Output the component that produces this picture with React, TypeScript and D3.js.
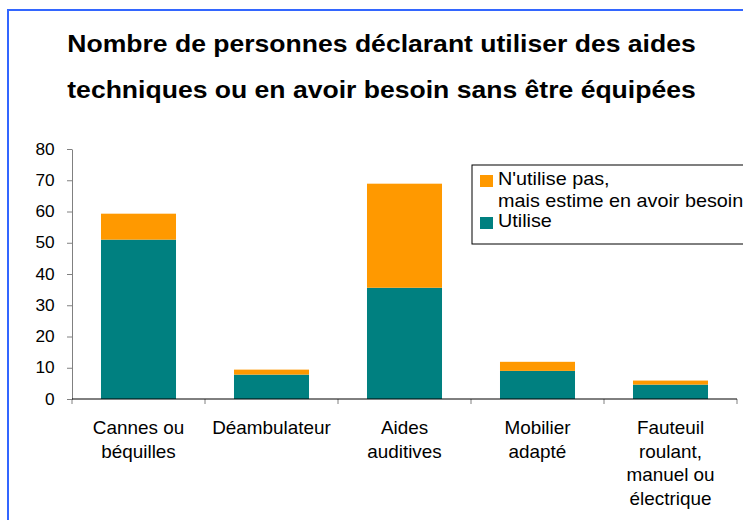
import React, { useEffect, useRef } from 'react';
import * as d3 from 'd3';

// categories (multi-line labels) and stacked values
const categories = ['Cannes ou béquilles', 'Déambulateur', 'Aides auditives', 'Mobilier adapté', 'Fauteuil roulant, manuel ou électrique'];
const labelLines = [['Cannes ou', 'béquilles'], ['Déambulateur'], ['Aides', 'auditives'], ['Mobilier', 'adapté'], ['Fauteuil', 'roulant,', 'manuel ou', 'électrique']];
const utilise = [51, 7.8, 35.6, 9.0, 4.6];
const besoin = [8.3, 1.6, 33.3, 2.9, 1.3];
const yTicks = [0, 10, 20, 30, 40, 50, 60, 70, 80];
const titleLines = ['Nombre de personnes déclarant utiliser des aides', 'techniques ou en avoir besoin sans être équipées'];
const legendItems = [
  { lines: ["N'utilise pas,", 'mais estime en avoir besoin'], color: '#FF9900' },
  { lines: ['Utilise'], color: '#008080' },
];

const App = () => {
  const svgRef = useRef<SVGSVGElement>(null);

  useEffect(() => {
    const svg = d3.select(svgRef.current);
    svg.selectAll('*').remove();

    const width = 743;
    const height = 520;
    const margin = { top: 149, right: 6, bottom: 121, left: 72 };
    const font = 'Arial, "Liberation Sans", sans-serif';
    // the original text is a bit wider than plain Arial
    const stretch = (x, y, s) => `translate(${x},${y}) scale(${s},1)`;

    // blue frame around the chart
    svg.append('rect')
      .attr('x', 8).attr('y', 10)
      .attr('width', width + 20).attr('height', height + 20)
      .attr('fill', 'white')
      .attr('stroke', '#3366FF')
      .attr('stroke-width', 2);

    // title
    svg.append('g').selectAll('text')
      .data(titleLines)
      .join('text')
      .attr('transform', (d, i) => stretch(381.5, 52 + i * 45.5, 1.155))
      .attr('text-anchor', 'middle')
      .attr('font-family', font)
      .attr('font-weight', 'bold')
      .attr('font-size', 23)
      .attr('fill', '#000')
      .text(d => d);

    const xScale = d3.scaleBand()
      .domain(categories)
      .range([margin.left, width - margin.right])
      .paddingInner(0.436)
      .paddingOuter(0.218);

    const yScale = d3.scaleLinear()
      .domain([0, 80])
      .range([height - margin.bottom, margin.top]);

    const rows = categories.map((c, i) => ({ cat: c, utilise: utilise[i], besoin: besoin[i] }));
    const stack = d3.stack<any>().keys(['utilise', 'besoin'])(rows);
    const colors = { utilise: '#008080', besoin: '#FF9900' };

    svg.append('g').selectAll('g')
      .data(stack)
      .join('g')
      .attr('fill', d => colors[d.key])
      .selectAll('rect')
      .data(d => d)
      .join('rect')
      .attr('x', d => xScale(d.data.cat))
      .attr('y', d => yScale(d[1]))
      .attr('width', xScale.bandwidth())
      .attr('height', d => yScale(d[0]) - yScale(d[1]));

    // y axis
    const yAxis = svg.append('g')
      .attr('transform', `translate(${margin.left},0)`)
      .call(d3.axisLeft(yScale).tickValues(yTicks).tickSize(5).tickSizeOuter(0).tickPadding(11));
    yAxis.select('.domain').attr('stroke', '#808080');
    yAxis.selectAll('line').attr('stroke', '#808080');
    yAxis.selectAll('text')
      .attr('font-family', font)
      .attr('font-size', 16)
      .attr('fill', '#000')
      .attr('transform', 'scale(1.08,1)');

    // x axis: black baseline, grey ticks between categories
    const step = xScale.step();
    const bounds = d3.range(categories.length + 1).map(i => margin.left + i * step);
    svg.append('g').selectAll('line')
      .data(bounds)
      .join('line')
      .attr('x1', d => d).attr('x2', d => d)
      .attr('y1', yScale(0)).attr('y2', yScale(0) + 5)
      .attr('stroke', '#808080');
    svg.append('line')
      .attr('x1', margin.left).attr('x2', width - margin.right)
      .attr('y1', yScale(0)).attr('y2', yScale(0))
      .attr('stroke', '#000');

    svg.append('g').selectAll('text')
      .data(categories)
      .join('text')
      .attr('transform', d => stretch(xScale(d) + xScale.bandwidth() / 2, 434, 1.05))
      .attr('font-family', font)
      .attr('font-size', 18)
      .attr('fill', '#000')
      .attr('text-anchor', 'middle')
      .each(function (d, i) {
        const t = d3.select(this);
        labelLines[i].forEach((line, j) => {
          t.append('tspan')
            .attr('x', 0)
            .attr('y', j * 23.7)
            .text(line);
        });
      });

    // legend
    const lg = svg.append('g');
    lg.append('rect')
      .attr('x', 472).attr('y', 165)
      .attr('width', 300).attr('height', 79)
      .attr('fill', 'white')
      .attr('stroke', '#000');
    legendItems.forEach((item, i) => {
      const top = i === 0 ? 175 : 217;
      lg.append('rect')
        .attr('x', 480).attr('y', top)
        .attr('width', 13).attr('height', 12)
        .attr('fill', item.color);
      item.lines.forEach((line, j) => {
        lg.append('text')
          .attr('transform', stretch(498, top + 10 + j * 22, 1.1))
          .attr('font-family', font)
          .attr('font-size', 18)
          .attr('fill', '#000')
          .text(line);
      });
    });
  }, []);

  return (
    <svg ref={svgRef} width={743} height={520} style={{ position: 'absolute', left: 0, top: 0 }}></svg>
  );
};

export default App;
